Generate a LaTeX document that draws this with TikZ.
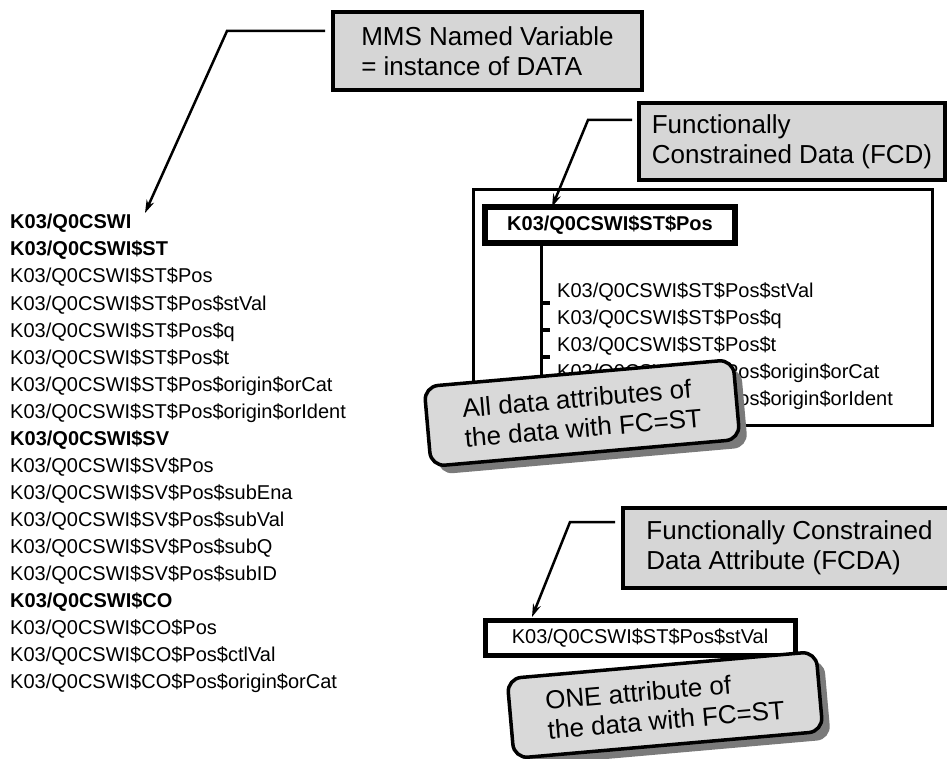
\documentclass[tikz,border=0pt]{standalone}
\usepackage{fontspec}
\setmainfont{Liberation Sans}
\usetikzlibrary{arrows.meta,shadows}
\definecolor{boxgray}{HTML}{D6D6D6}
\definecolor{callgray}{HTML}{D9D9D9}
\definecolor{shadowgray}{HTML}{7A7A7A}
\begin{document}
\begin{tikzpicture}[x=1pt,y=-1pt,
 lbl/.style={anchor=base west, inner sep=0, font=\fontsize{20}{24}\selectfont},
 lblb/.style={anchor=base west, inner sep=0, font=\fontsize{20}{24}\selectfont\bfseries},
 graybox/.style={draw, line width=3.5pt, fill=boxgray, align=left, font=\fontsize{26}{30}\selectfont, inner sep=0},
 whitebox/.style={draw, fill=white, inner sep=0},
 callout/.style={draw, line width=3.5pt, fill=callgray, rounded corners=14pt, rotate=5, align=left,
   font=\fontsize{26}{30}\selectfont, minimum width=310pt, minimum height=80pt, inner sep=0,
   drop shadow={fill=shadowgray, opacity=1, shadow xshift=8pt, shadow yshift=-8pt}},
 conn/.style={line width=2.5pt, -{Stealth[length=13pt,width=8pt]}},
 tick/.style={line width=4pt},
]
\useasboundingbox (0,0) rectangle (947,759);
\fill[white] (0,0) rectangle (947,759);

% ---- left list ----
\node[lblb] (l0)  at (10,229) {K03/Q0CSWI};
\node[lblb] (l1)  at (10,256) {K03/Q0CSWI\$ST};
\node[lbl]  (l2)  at (10,283) {K03/Q0CSWI\$ST\$Pos};
\node[lbl]  (l3)  at (10,310) {K03/Q0CSWI\$ST\$Pos\$stVal};
\node[lbl]  (l4)  at (10,337) {K03/Q0CSWI\$ST\$Pos\$q};
\node[lbl]  (l5)  at (10,364) {K03/Q0CSWI\$ST\$Pos\$t};
\node[lbl]  (l6)  at (10,391) {K03/Q0CSWI\$ST\$Pos\$origin\$orCat};
\node[lbl]  (l7)  at (10,418) {K03/Q0CSWI\$ST\$Pos\$origin\$orIdent};
\node[lblb] (l8)  at (10,445) {K03/Q0CSWI\$SV};
\node[lbl]  (l9)  at (10,472) {K03/Q0CSWI\$SV\$Pos};
\node[lbl]  (l10) at (10,499) {K03/Q0CSWI\$SV\$Pos\$subEna};
\node[lbl]  (l11) at (10,526) {K03/Q0CSWI\$SV\$Pos\$subVal};
\node[lbl]  (l12) at (10,553) {K03/Q0CSWI\$SV\$Pos\$subQ};
\node[lbl]  (l13) at (10,580) {K03/Q0CSWI\$SV\$Pos\$subID};
\node[lblb] (l14) at (10,607) {K03/Q0CSWI\$CO};
\node[lbl]  (l15) at (10,634) {K03/Q0CSWI\$CO\$Pos};
\node[lbl]  (l16) at (10,661) {K03/Q0CSWI\$CO\$Pos\$ctlVal};
\node[lbl]  (l17) at (10,688) {K03/Q0CSWI\$CO\$Pos\$origin\$orCat};

% ---- MMS box ----
\node[graybox, minimum width=309pt, minimum height=78pt] (mms) at (487.5,51) {MMS Named Variable\\= instance of DATA};
\coordinate (mmsA) at (325,31);
\coordinate (mmsB) at (227,31);
\coordinate (mmsT) at (145,213);
\draw[conn] (mmsA) -- (mmsB) -- (mmsT);

% ---- FCD group ----
\draw[line width=3pt] (473,190) rectangle (932,425);
\node[whitebox, line width=6pt, minimum width=250pt, minimum height=36pt, font=\fontsize{20}{24}\selectfont\bfseries] (fcd) at (610,225) {K03/Q0CSWI\$ST\$Pos};
\coordinate (treeEnd) at (541,405);
\draw[line width=3pt] (fcd.south -| treeEnd) -- (treeEnd);
\node[lbl] (c1) at (557,297) {K03/Q0CSWI\$ST\$Pos\$stVal};
\node[lbl] (c2) at (557,324) {K03/Q0CSWI\$ST\$Pos\$q};
\node[lbl] (c3) at (557,351) {K03/Q0CSWI\$ST\$Pos\$t};
\node[lbl] (c4) at (557,378) {K03/Q0CSWI\$ST\$Pos\$origin\$orCat};
\node[lbl] (c5) at (557,405) {K03/Q0CSWI\$ST\$Pos\$origin\$orIdent};
\foreach \c in {c1,c2,c3,c4,c5}{
  \draw[tick] ([yshift=-6pt]\c.base west -| treeEnd) -- ([xshift=-7pt,yshift=-6pt]\c.base west);
}
\node[graybox, line width=4pt, minimum width=306pt, minimum height=77pt] (fcdlab) at (792,141.5) {Functionally\\Constrained Data (FCD)};
\coordinate (fcdA) at (632,120);
\coordinate (fcdB) at (588,120);
\coordinate (fcdT) at (552,207);
\draw[conn] (fcdA) -- (fcdB) -- (fcdT);
\node[callout] (call1) at (582,413) {All data attributes of\\the data with FC=ST};

% ---- FCDA group ----
\node[whitebox, line width=5pt, minimum width=310pt, minimum height=35pt, font=\fontsize{20}{24}\selectfont] (fcda) at (640,637.5) {K03/Q0CSWI\$ST\$Pos\$stVal};
\node[graybox, line width=4pt, minimum width=333pt, minimum height=80pt] (fcdalab) at (789.5,548) {Functionally Constrained\\Data Attribute (FCDA)};
\coordinate (fcdaA) at (615,522);
\coordinate (fcdaB) at (570,522);
\coordinate (fcdaT) at (532,617);
\draw[conn] (fcdaA) -- (fcdaB) -- (fcdaT);
\node[callout] (call2) at (665,705) {ONE attribute of\\the data with FC=ST};
\end{tikzpicture}
\end{document}
